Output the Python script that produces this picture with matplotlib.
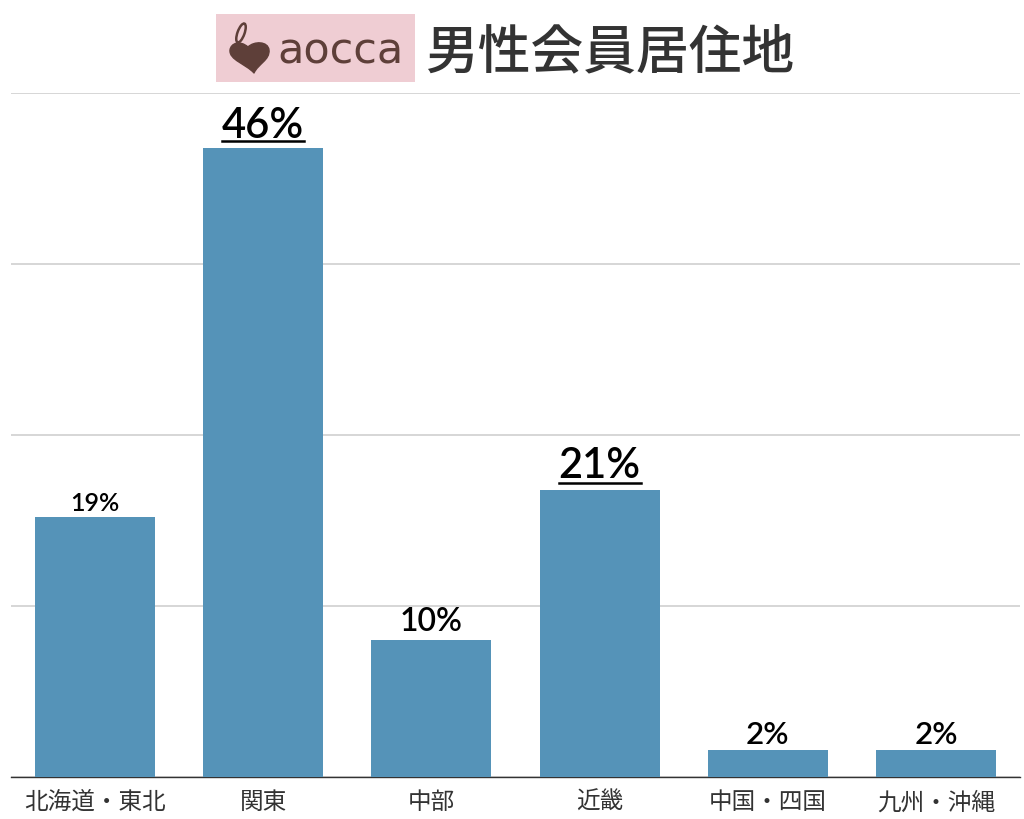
import matplotlib
matplotlib.use("Agg")
import matplotlib.pyplot as plt
from matplotlib.patches import Rectangle, Ellipse, PathPatch
from matplotlib.path import Path

plt.rcParams['font.family'] = ['Noto Sans CJK JP', 'DejaVu Sans']

# データ
areas = ['北海道・東北', '関東', '中部', '近畿', '中国・四国', '九州・沖縄']
shares = [19, 46, 10, 21, 2, 2]
value_labels = ['19%', '46%', '10%', '21%', '2%', '2%']
y_ticks = [0, 12.5, 25, 37.5, 50]
title = '男性会員居住地'
logo_text = 'aocca'

W, H = 1024, 820
BAR_COLOR = '#5593b8'
# 値ラベルの見た目 (文字サイズ, バーからの距離pt, 下線)
LABEL_STYLE = [(18, 2.5, False), (30, 3, True), (23, 3, False),
               (30, 4, True), (22.5, 1.5, False), (22.5, 1.5, False)]

fig = plt.figure(figsize=(W / 100, H / 100), dpi=100)
ax = fig.add_axes([11 / W, (H - 778) / H, (1020 - 11) / W, 684 / H])

x = range(len(areas))
ax.bar(x, shares, width=0.713, color=BAR_COLOR, zorder=3)
ax.set_xlim(-0.5, 5.5)
ax.set_ylim(0, 50)
ax.set_yticks(y_ticks)
ax.set_yticklabels([])
ax.set_xticks(list(x))
ax.set_xticklabels(areas, fontsize=17, color='#333333')
ax.tick_params(axis='both', length=0)
ax.tick_params(axis='x', pad=9.5)
ax.grid(axis='y', color='#cccccc', linewidth=1.1, zorder=0)
for side in ['top', 'left', 'right']:
    ax.spines[side].set_visible(False)
ax.spines['bottom'].set_color('#333333')
ax.spines['bottom'].set_linewidth(1.0)

# 値ラベル
texts = []
for i, v in enumerate(shares):
    size, offset, _ = LABEL_STYLE[i]
    t = ax.annotate(value_labels[i], (i, v), xytext=(0, offset),
                    textcoords='offset points', ha='center', va='bottom',
                    fontsize=size, family=['Lato', 'DejaVu Sans'], fontweight='semibold',
                    color='black', zorder=4)
    texts.append(t)

# 下線
fig.canvas.draw()
for i, t in enumerate(texts):
    if LABEL_STYLE[i][2]:
        box = t.get_window_extent()
        y_px = ax.transData.transform((i, shares[i]))[1] + 6.5
        fig.add_artist(plt.Line2D([box.x0, box.x1], [y_px, y_px],
                                  transform=None, color='black', linewidth=1.8))

# ロゴとタイトル(ピクセル座標)
top = fig.add_axes([0, 0, 1, 1], facecolor='none')
top.set_xlim(0, W)
top.set_ylim(H, 0)
top.axis('off')
top.add_patch(Rectangle((216, 14.5), 199, 68, color='#efcdd3', linewidth=0))
logo = '#5e3f39'
heart = Path([(254, 74),
              (246, 65), (229, 61), (230, 51),
              (231, 44), (240, 41), (248, 48),
              (254, 42), (268, 42), (269, 51),
              (270, 61), (258, 65), (254, 74),
              (254, 74)],
             [Path.MOVETO] + [Path.CURVE4] * 12 + [Path.CLOSEPOLY])
top.add_patch(PathPatch(heart, facecolor=logo, edgecolor=logo, linewidth=1, joinstyle='round'))
top.add_patch(Ellipse((241, 34), 7, 20, angle=20, fill=False, edgecolor=logo, linewidth=1.8))
top.text(341, 51, logo_text, fontsize=31, family=['DejaVu Sans'], color=logo,
         ha='center', va='center')
top.text(610, 54, title, fontsize=38, color='#333333', ha='center', va='center',
         fontweight='medium')

fig.savefig('out.png', dpi=100, facecolor='white')
